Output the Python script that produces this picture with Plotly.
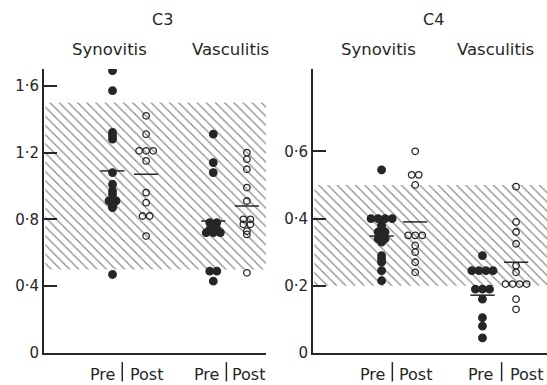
import plotly.graph_objects as go

# ---- data ----
groups = ["Synovitis", "Vasculitis"]
phases = ["Pre", "Post"]

c3_syn_pre = [1.69, 1.57, 1.32, 1.30, 1.28, 1.08, 1.01, 0.97, 0.95, 0.91, 0.91, 0.88, 0.87, 0.47]
c3_syn_post = [1.42, 1.31, 1.21, 1.21, 1.21, 1.15, 0.96, 0.90, 0.82, 0.82, 0.70]
c3_vas_pre = [1.31, 1.14, 1.08, 0.78, 0.78, 0.76, 0.74, 0.74, 0.72, 0.72, 0.72, 0.49, 0.49, 0.43]
c3_vas_post = [1.20, 1.16, 1.10, 0.99, 0.91, 0.80, 0.80, 0.77, 0.77, 0.73, 0.71, 0.48]
c3_means = [1.09, 1.07, 0.79, 0.88]
c3_band = [0.5, 1.5]

c4_syn_pre = [0.545, 0.40, 0.40, 0.40, 0.40, 0.38, 0.37, 0.36, 0.36, 0.35, 0.34, 0.34, 0.33,
              0.29, 0.28, 0.27, 0.245, 0.215]
c4_syn_post = [0.60, 0.53, 0.53, 0.50, 0.35, 0.35, 0.35, 0.32, 0.30, 0.27, 0.24]
c4_vas_pre = [0.29, 0.245, 0.245, 0.245, 0.245, 0.19, 0.19, 0.19, 0.16, 0.105, 0.08, 0.045]
c4_vas_post = [0.495, 0.39, 0.36, 0.325, 0.26, 0.24, 0.205, 0.205, 0.205, 0.205, 0.16, 0.13]
c4_means = [0.348, 0.39, 0.172, 0.27]
c4_band = [0.2, 0.5]

c3_ticks = [0, 0.4, 0.8, 1.2, 1.6]
c3_ticktext = ["0", "0·4", "0·8", "1·2", "1·6"]
c4_ticks = [0, 0.2, 0.4, 0.6]
c4_ticktext = ["0", "0·2", "0·4", "0·6"]

panel_titles = ["C3", "C4"]

# ---- layout constants ----
col_pos = [2.0, 3.0, 5.0, 6.0]
FONT = "DejaVu Sans"
INK = "#262626"
STEP = 0.21


def offsets(vals, step=STEP):
    counts = {v: vals.count(v) for v in vals}
    seen = {}
    out = []
    for v in vals:
        k = seen.get(v, 0)
        seen[v] = k + 1
        out.append((k - (counts[v] - 1) / 2) * step)
    return out


fig = go.Figure()

panels = [
    dict(cols=[c3_syn_pre, c3_syn_post, c3_vas_pre, c3_vas_post], means=c3_means, band=c3_band,
         xa="x", ya="y", xr=[-0.04, 6.57], yr=[0, 1.70]),
    dict(cols=[c4_syn_pre, c4_syn_post, c4_vas_pre, c4_vas_post], means=c4_means, band=c4_band,
         xa="x2", ya="y2", xr=[-0.04, 6.92], yr=[0, 0.845]),
]

for p in panels:
    x0, x1 = p["xr"][0] + 0.04, p["xr"][1] + 0.5
    lo, hi = p["band"]
    fig.add_trace(go.Scatter(
        x=[x0, x1, x1, x0, x0], y=[lo, lo, hi, hi, lo], mode="lines",
        line=dict(width=0), fill="toself", fillcolor="white",
        fillpattern=dict(shape="\\", size=6.5, solidity=0.2, fgcolor="#1e1e1e", bgcolor="white"),
        xaxis=p["xa"], yaxis=p["ya"], hoverinfo="skip", showlegend=False))
    for i, vals in enumerate(p["cols"]):
        offs = offsets(vals)
        xs = [col_pos[i] + o for o in offs]
        filled = (i % 2 == 0)
        fig.add_trace(go.Scatter(
            x=xs, y=vals, mode="markers",
            marker=dict(symbol="circle" if filled else "circle-open",
                        size=7.5 if filled else 6.5,
                        color=INK, line=dict(width=1.3, color=INK)),
            xaxis=p["xa"], yaxis=p["ya"], showlegend=False))
        m = p["means"][i]
        fig.add_trace(go.Scatter(
            x=[col_pos[i] - 0.36, col_pos[i] + 0.36], y=[m, m], mode="lines",
            line=dict(color=INK, width=1.5),
            xaxis=p["xa"], yaxis=p["ya"], showlegend=False, hoverinfo="skip"))

axis_common = dict(showgrid=False, zeroline=False, showline=True, linecolor=INK, linewidth=1.7)

fig.update_layout(
    width=547, height=385,
    margin=dict(l=44, r=0, t=69, b=32),
    paper_bgcolor="white", plot_bgcolor="rgba(0,0,0,0)",
    font=dict(family=FONT, color=INK, size=15),
    xaxis=dict(domain=[0, 0.4414], range=panels[0]["xr"], showticklabels=False, ticks="",
               anchor="y", **axis_common),
    yaxis=dict(domain=[0, 1], range=panels[0]["yr"], tickvals=c3_ticks, ticktext=c3_ticktext,
               ticks="inside", ticklen=13, tickwidth=1.5, tickcolor=INK, anchor="x",
               tickfont=dict(size=15, family=FONT, color=INK), **axis_common),
    xaxis2=dict(domain=[0.5348, 1], range=panels[1]["xr"], showticklabels=False, ticks="",
                anchor="y2", **axis_common),
    yaxis2=dict(domain=[0, 1], range=panels[1]["yr"], tickvals=c4_ticks, ticktext=c4_ticktext,
                ticks="inside", ticklen=13, tickwidth=1.5, tickcolor=INK, anchor="x2",
                tickfont=dict(size=15, family=FONT, color=INK), **axis_common),
)

# titles and labels
title_x = [3.5, 3.55]
group_x = [[1.9, 5.5], [1.9, 5.4]]
label_pos = [
    [[1.70, 2.29, 3.0], [4.79, 5.39, 6.04]],
    [[1.73, 2.32, 3.0], [4.94, 5.57, 6.31]],
]
for k, p in enumerate(panels):
    fig.add_annotation(text=panel_titles[k], x=title_x[k], y=1.175, xref=p["xa"], yref="paper",
                       yanchor="middle", showarrow=False, font=dict(size=16, family=FONT, color=INK))
    for g in range(2):
        fig.add_annotation(text=groups[g], x=group_x[k][g], y=1.068, xref=p["xa"], yref="paper",
                           yanchor="middle", showarrow=False,
                           font=dict(size=16.5, family=FONT, color=INK))
        xp, xd, xq = label_pos[k][g]
        fig.add_annotation(text=phases[0], x=xp, y=-0.074, xref=p["xa"], yref="paper",
                           yanchor="middle", showarrow=False,
                           font=dict(size=16, family=FONT, color=INK))
        fig.add_annotation(text=phases[1], x=xq, y=-0.074, xref=p["xa"], yref="paper",
                           yanchor="middle", showarrow=False,
                           font=dict(size=16, family=FONT, color=INK))
        fig.add_shape(type="line", x0=xd, x1=xd, y0=-0.032, y1=-0.1, xref=p["xa"], yref="paper",
                      line=dict(color=INK, width=1.5))

fig.write_html("out.html")
